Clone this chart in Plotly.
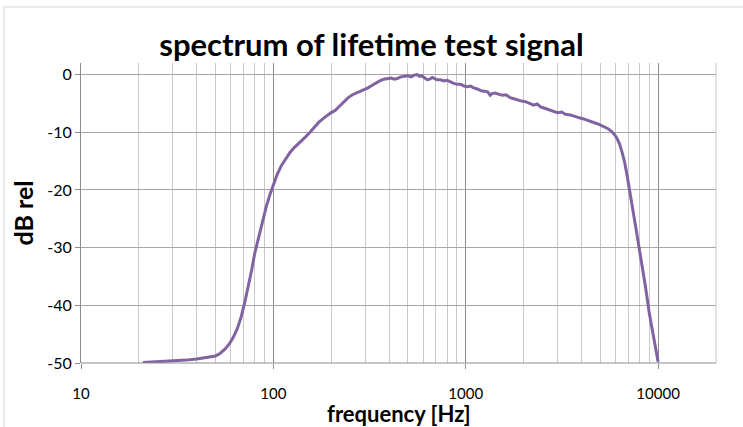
import plotly.graph_objects as go

freq_hz = [21, 25, 30, 35, 40, 45, 50, 53, 56, 59, 62, 65, 68, 71, 74, 77, 80, 84, 88, 92, 96,
           100, 105, 110, 116, 122, 128, 134, 140, 147, 155, 163, 172, 182, 192, 200, 210, 220,
           232, 245, 258, 270, 283, 297, 310, 325, 340, 357, 375, 392, 410, 425, 440, 460, 480,
           500, 520, 540, 560, 575, 590, 610, 630, 650, 670, 690, 710, 740, 770, 800, 830, 860,
           900, 940, 980, 1020, 1060, 1100, 1150, 1200, 1250, 1300, 1340, 1370, 1420, 1480, 1550,
           1620, 1700, 1780, 1860, 1950, 2050, 2150, 2250, 2350, 2450, 2550, 2700, 2850, 3000,
           3150, 3300, 3500, 3700, 3900, 4100, 4300, 4500, 4700, 4900, 5100, 5300, 5500, 5700,
           5900, 6100, 6300, 6500, 6700, 6900, 7100, 7400, 7700, 8000, 8300, 8600, 9000, 9500,
           10000]
level_db = [-49.9, -49.8, -49.65, -49.5, -49.3, -49.1, -48.8, -48.3, -47.6, -46.7, -45.5, -44.0,
            -42.0, -39.5, -36.8, -34.0, -31.0, -28.0, -25.2, -22.8, -20.8,
            -19.0, -17.2, -15.8, -14.5, -13.5, -12.7, -12.1, -11.6, -10.8, -10.0, -9.2, -8.3,
            -7.6, -7.0, -6.6, -6.2, -5.5, -4.7, -4.0, -3.5, -3.2, -3.0, -2.7, -2.3, -1.9, -1.5,
            -1.1, -0.8, -0.7, -0.6, -0.8, -0.7, -0.4, -0.3, -0.2, -0.4, -0.1, 0.0, -0.3, -0.2,
            -0.6, -0.9, -0.8, -0.5, -0.7, -0.9, -0.9, -1.1, -1.0, -1.3, -1.5, -1.7, -1.7, -2.0,
            -2.1, -2.0, -2.3, -2.5, -2.8, -2.9, -3.0, -3.6, -3.3, -3.2, -3.4, -3.6, -3.5, -4.0,
            -4.2, -4.4, -4.6, -4.7, -5.0, -5.3, -5.1, -5.6, -5.8, -6.1, -6.4, -6.6, -6.5, -6.9,
            -7.0, -7.3, -7.5, -7.7, -7.9, -8.1, -8.4, -8.6, -8.9, -9.1, -9.4, -9.8, -10.3,
            -11.0, -12.0, -13.5, -15.2, -17.5, -19.8, -23.5, -27.0, -30.4, -33.5, -36.8, -41.4,
            -45.8, -49.8]
x_tick_vals = [10, 100, 1000, 10000]
x_tick_text = ["10", "100", "1000", "10000"]
y_tick_vals = [-50, -40, -30, -20, -10, 0]
y_tick_text = ["-50", "-40", "-30", "-20", "-10", "0"]

FONT = "Lato"
fig = go.Figure()
fig.add_trace(go.Scatter(x=freq_hz, y=level_db, mode="lines",
                         line=dict(color="#8064A2", width=3), showlegend=False))

fig.update_layout(
    width=743, height=427,
    margin=dict(l=81, r=27, t=63, b=64, autoexpand=False),
    paper_bgcolor="white", plot_bgcolor="white",
    font=dict(family=FONT, size=16, color="black"),
    title=dict(text="<b>spectrum of lifetime test signal</b>", x=0.5, xanchor="center",
               y=1 - 45 / 427, yanchor="middle", font=dict(family=FONT, size=31, color="black")),
    xaxis=dict(type="log", range=[1, 4.30103], tickvals=x_tick_vals, ticktext=x_tick_text,
               automargin=False, tickfont=dict(size=15),
               showgrid=True, gridcolor="#8c8c8c", gridwidth=1,
               showline=False, zeroline=False,
               ticks="outside", ticklen=5, tickcolor="#8c8c8c", ticklabelstandoff=12,
               minor=dict(showgrid=True, gridcolor="#c8c8c8", dtick="D1", ticks="")),
    yaxis=dict(range=[-50, 2], tickvals=y_tick_vals, ticktext=y_tick_text, automargin=False,
               showgrid=True, gridcolor="#a6a6a6",
               showline=True, linecolor="#8c8c8c", linewidth=1, zeroline=False,
               ticks="outside", ticklen=5, tickcolor="#8c8c8c",
               title=dict(text="<b>dB rel</b>", font=dict(family=FONT, size=25), standoff=6)),
    annotations=[
        dict(text="<b>frequency [Hz]</b>", xref="paper", yref="paper", x=0.5, y=-0.168,
             xanchor="center", yanchor="middle", showarrow=False,
             font=dict(family=FONT, size=22, color="black")),
    ],
    shapes=[
        dict(type="line", xref="paper", yref="paper", x0=1, x1=1, y0=0, y1=1,
             line=dict(color="#c8c8c8", width=1)),
        dict(type="line", xref="paper", yref="paper", x0=0, x1=1, y0=0, y1=0,
             line=dict(color="#8c8c8c", width=1)),
        dict(type="rect", xref="paper", yref="paper", x0=-0.1213, x1=1.06, y0=-0.25, y1=1.1867,
             line=dict(color="#d9d9d9", width=1), layer="below"),
    ],
)
fig.write_html("out.html", config={"displayModeBar": False},
               post_script="document.body.style.margin='0';document.body.style.overflow='hidden';")
